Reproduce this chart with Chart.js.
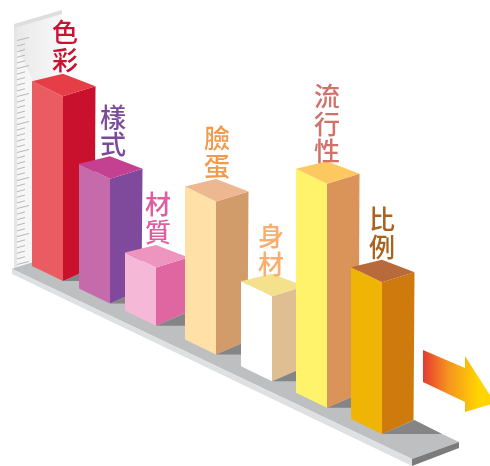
<!DOCTYPE html>
<html lang="zh-Hant">
<head>
<meta charset="utf-8">
<title>比例</title>
<style>
  html, body { margin: 0; padding: 0; background: #fff; }
  #wrap { width: 490px; height: 466px; overflow: hidden; }
  canvas { display: block; }
</style>
<script src="https://cdn.jsdelivr.net/npm/chart.js@4/dist/chart.umd.min.js"></script>
</head>
<body>
<div id="wrap"><canvas id="c" width="490" height="466"></canvas></div>
<script>
// Categories and readings
const categories = ['色彩', '樣式', '材質', '臉蛋', '身材', '流行性', '比例'];
const heights = [33, 22.3, 10.4, 27.3, 15.2, 40, 27.1];
const stations = [0, 47, 93, 153, 209, 264, 319];
const rulerTicks = [0,1,2,3,4,5,6,7,8,9,10,11,12,13,14,15,16,17,18,19,20,21,22,23,24,25,26,27,28,29,30,31,32,33,34,35,36,37,38,39,40];

// Face colours of each prism
const frontFaces = ['#EA5B62', '#C56AAA', '#F5B9D7', '#FFE0A6', '#FFFFFF', '#FFF36B', '#F0B405'];
const sideFaces = ['#C9112D', '#7F4A9C', '#DF66A0', '#D19C69', '#DFBE92', '#DA9359', '#CF7A0C'];
const topFaces = ['#E63E46', '#C44191', '#EE95BF', '#EDB78F', '#F5E08C', '#FDC860', '#B96A3A'];
const labelColors = ['#C8122F', '#7B4A9B', '#DE5FA0', '#F29A4B', '#F9AE6B', '#D2716A', '#A9631F'];
const labelNudgeX = [2, 3, 2, 1, -1, 0, 0];
const labelNudgeY = [-1, 1, 0, 0, 3, 3, 0];

// Isometric projection constants
const FLOOR_SLOPE = 0.48;
const LEFT_W = 31;
const RIGHT_W = 32.5;

function poly(ctx, pts, fill) {
  ctx.beginPath();
  pts.forEach(([x, y], i) => (i ? ctx.lineTo(x, y) : ctx.moveTo(x, y)));
  ctx.closePath();
  ctx.fillStyle = fill;
  ctx.fill();
}

// Bar controller whose elements are painted as prisms standing on a sloped floor
class PrismController extends Chart.BarController {
  draw() {
    const ctx = this.chart.ctx;
    const origin = this.chart.scales.x.getPixelForValue(0);
    this.getMeta().data.forEach((bar, i) => {
      const drop = FLOOR_SLOPE * (bar.x - origin);
      const x = bar.x, top = bar.y + drop, foot = bar.base + drop;
      // cast shadow on the floor
      poly(ctx, [[x, foot], [x + RIGHT_W, foot - 14], [x + 60, foot]], '#858585');
      // left face
      poly(ctx, [[x - LEFT_W, top - 15], [x, top], [x, foot], [x - LEFT_W, foot - 15]], frontFaces[i]);
      // right face
      poly(ctx, [[x, top], [x + RIGHT_W, top - 10], [x + RIGHT_W - 1, foot - 14], [x, foot]], sideFaces[i]);
      // top face
      poly(ctx, [[x - LEFT_W, top - 15], [x, top - 22.5], [x + RIGHT_W, top - 10], [x, top]], topFaces[i]);
    });
  }
}
PrismController.id = 'prism';
PrismController.defaults = Chart.BarController.defaults;
PrismController.overrides = Chart.BarController.overrides;
Chart.register(PrismController);

// Back wall with its ruler, floor slab and direction arrow
const scenery = {
  id: 'scenery',
  beforeDatasetsDraw(chart) {
    const { ctx, scales } = chart;
    // wall
    const wall = ctx.createLinearGradient(14, 0, 70, 0);
    wall.addColorStop(0, '#E8E8E9');
    wall.addColorStop(1, '#FBFBFB');
    poly(ctx, [[14, 27], [62, 13], [62, 253], [14, 268]], wall);
    poly(ctx, [[14, 40], [32, 78], [32, 263], [14, 268]], '#F6F6F7');
    poly(ctx, [[14, 24], [62, 10], [62, 14], [14, 28]], '#DEDEDF');
    poly(ctx, [[14, 28], [17, 27], [17, 267], [14, 268]], '#E5E5E6');
    // ruler ticks, following the value scale
    ctx.strokeStyle = '#B8B8B8';
    ctx.lineWidth = 1;
    rulerTicks.forEach(v => {
      const y = scales.y.getPixelForValue(v) - 18;
      const major = v % 5 === 0;
      ctx.beginPath();
      ctx.moveTo(17, y + 1.5);
      ctx.lineTo(major ? 29 : 25, major ? y - 1.5 : y - 0.7);
      ctx.stroke();
    });
    // floor slab
    poly(ctx, [[12, 269], [14, 268], [63, 253], [459, 442], [412, 459]], '#BEBFC1');
    poly(ctx, [[12, 269], [412, 459], [412, 466], [12, 274]], '#DFE0E1');
    poly(ctx, [[412, 459], [459, 442], [459, 448], [412, 466]], '#7B7B7C');
    // arrow
    const g = ctx.createLinearGradient(423, 0, 478, 0);
    g.addColorStop(0, '#E53A2F');
    g.addColorStop(0.45, '#F5921F');
    g.addColorStop(1, '#FFD400');
    poly(ctx, [[423, 350], [465, 368], [465, 356], [495, 403], [465, 412], [465, 402], [423, 382]], g);
  },
  afterDatasetsDraw(chart) {
    const { ctx, scales } = chart;
    const origin = scales.x.getPixelForValue(0);
    const bars = chart.getDatasetMeta(0).data;
    ctx.font = '500 26px "Noto Sans CJK TC"';
    ctx.textAlign = 'center';
    ctx.textBaseline = 'middle';
    categories.forEach((name, i) => {
      const apex = bars[i].y + FLOOR_SLOPE * (bars[i].x - origin) - 22.5;
      const chars = Array.from(name);
      ctx.fillStyle = labelColors[i];
      chars.forEach((ch, k) => {
        const y = apex - 13 + labelNudgeY[i] - (chars.length - 1 - k) * 27.5;
        ctx.fillText(ch, bars[i].x + labelNudgeX[i], y);
      });
    });
  }
};

new Chart(document.getElementById('c'), {
  type: 'prism',
  data: {
    labels: categories,
    datasets: [{
      data: stations.map((x, i) => ({ x, y: heights[i] })),
      backgroundColor: frontFaces,
      barThickness: 63
    }]
  },
  options: {
    responsive: false,
    animation: false,
    layout: { padding: 0 },
    plugins: { legend: { display: false }, tooltip: { enabled: false } },
    scales: {
      x: { type: 'linear', min: -63, max: 427, display: false, offset: false },
      y: { type: 'linear', min: -185 / 5.6, max: 281 / 5.6, display: false }
    }
  },
  plugins: [scenery]
});
</script>
</body>
</html>
